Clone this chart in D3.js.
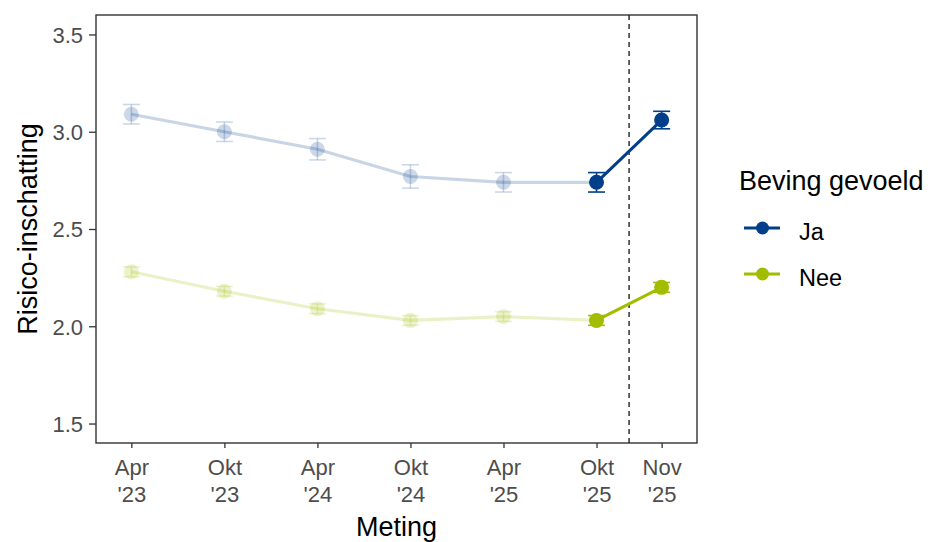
<!DOCTYPE html>
<html>
<head>
<meta charset="utf-8">
<script src="https://cdn.jsdelivr.net/npm/d3@7"></script>
<style>
  body { margin: 0; background: #fff; }
  text { font-family: "Liberation Sans", Arial, sans-serif; }
</style>
</head>
<body>
<div id="container"></div>
<script>
const width = 934;
const height = 542;
const margin = { top: 15, right: 237, bottom: 99, left: 96 };

// data
const tickLabels = [["Apr", "'23"], ["Okt", "'23"], ["Apr", "'24"], ["Okt", "'24"], ["Apr", "'25"], ["Okt", "'25"], ["Nov", "'25"]];
const positions = [1, 2, 3, 4, 5, 6, 6.7];
const jaMean = [3.09, 3.00, 2.91, 2.77, 2.74, 2.74, 3.06];
const jaSe = [0.05, 0.05, 0.055, 0.06, 0.05, 0.05, 0.045];
const neeMean = [2.28, 2.18, 2.09, 2.03, 2.05, 2.03, 2.20];
const neeSe = [0.025, 0.025, 0.025, 0.025, 0.025, 0.025, 0.025];
const yTicks = [1.5, 2.0, 2.5, 3.0, 3.5];
const cutoff = 6.35;

const series = [
    { name: "Ja", color: "#023e8a", mean: jaMean, se: jaSe },
    { name: "Nee", color: "#a2bd00", mean: neeMean, se: neeSe }
];

const svg = d3.select("#container")
    .append('svg')
    .attr('width', width)
    .attr('height', height);

const x = d3.scaleLinear()
    .domain([0.62, 7.08])
    .range([margin.left, width - margin.right]);

const y = d3.scaleLinear()
    .domain([1.4, 3.6])
    .range([height - margin.bottom, margin.top]);

// y axis
const yAxis = svg.append('g')
    .attr('transform', `translate(${margin.left},0)`)
    .call(d3.axisLeft(y).tickValues(yTicks).tickFormat(d3.format('.1f')).tickSize(7).tickPadding(6));
yAxis.select('.domain').remove();
yAxis.selectAll('line').attr('stroke', '#333').attr('stroke-width', 1.3);
yAxis.selectAll('text').attr('fill', '#4d4d4d').attr('dy', '0.36em').style('font-size', '22px');

// x axis
const xAxis = svg.append('g')
    .attr('transform', `translate(0,${height - margin.bottom})`)
    .call(d3.axisBottom(x).tickValues(positions).tickFormat('').tickSize(5));
xAxis.select('.domain').remove();
xAxis.selectAll('line').attr('stroke', '#333').attr('stroke-width', 1.3);
xAxis.selectAll('.tick').each(function (d, i) {
    const t = d3.select(this).append('text')
        .attr('fill', '#4d4d4d')
        .attr('text-anchor', 'middle')
        .style('font-size', '22px');
    t.append('tspan').attr('x', 0).attr('y', 32).text(tickLabels[i][0]);
    t.append('tspan').attr('x', 0).attr('y', 59).text(tickLabels[i][1]);
});

// panel border
svg.append('rect')
    .attr('x', margin.left)
    .attr('y', margin.top)
    .attr('width', width - margin.left - margin.right)
    .attr('height', height - margin.top - margin.bottom)
    .attr('fill', 'none')
    .attr('stroke', '#333')
    .attr('stroke-width', 1.4);

// dashed cutoff
svg.append('line')
    .attr('x1', x(cutoff)).attr('x2', x(cutoff))
    .attr('y1', margin.top).attr('y2', height - margin.bottom)
    .attr('stroke', '#222')
    .attr('stroke-width', 1.4)
    .attr('stroke-dasharray', '5,4');

const line = d3.line().x(d => x(d.x)).y(d => y(d.y));

series.forEach(s => {
    const pts = positions.map((p, i) => ({ x: p, y: s.mean[i], se: s.se[i], faded: i < 5 }));
    const g = svg.append('g');

    // faded history line
    g.append('path')
        .datum(pts.slice(0, 6))
        .attr('d', line)
        .attr('fill', 'none')
        .attr('stroke', s.color)
        .attr('stroke-opacity', 0.22)
        .attr('stroke-width', 3.2);

    // highlighted last segment
    g.append('path')
        .datum(pts.slice(5))
        .attr('d', line)
        .attr('fill', 'none')
        .attr('stroke', s.color)
        .attr('stroke-width', 3);

    const op = d => d.faded ? 0.2 : 1;
    const pt = g.selectAll('g.pt')
        .data(pts)
        .join('g')
        .attr('class', 'pt');

    pt.append('circle')
        .attr('cx', d => x(d.x))
        .attr('cy', d => y(d.y))
        .attr('r', 7.5)
        .attr('fill', s.color)
        .attr('fill-opacity', op);
    pt.append('line')
        .attr('x1', d => x(d.x)).attr('x2', d => x(d.x))
        .attr('y1', d => y(d.y - d.se)).attr('y2', d => y(d.y + d.se))
        .attr('stroke', s.color).attr('stroke-width', 1.6)
        .attr('stroke-opacity', op);
    pt.selectAll('line.cap')
        .data(d => [d.y - d.se, d.y + d.se].map(v => ({ x: d.x, v, faded: d.faded })))
        .join('line')
        .attr('class', 'cap')
        .attr('x1', d => x(d.x) - 8.5).attr('x2', d => x(d.x) + 8.5)
        .attr('y1', d => y(d.v)).attr('y2', d => y(d.v))
        .attr('stroke', s.color).attr('stroke-width', 1.6)
        .attr('stroke-opacity', op);
});

// axis titles
svg.append('text')
    .attr('x', (margin.left + width - margin.right) / 2)
    .attr('y', 536)
    .attr('text-anchor', 'middle')
    .style('font-size', '27px')
    .text('Meting');

svg.append('text')
    .attr('transform', `translate(37,${(margin.top + height - margin.bottom) / 2}) rotate(-90)`)
    .attr('text-anchor', 'middle')
    .style('font-size', '27px')
    .text('Risico-inschatting');

// legend
const legend = svg.append('g').attr('transform', 'translate(739,0)');
legend.append('text')
    .attr('x', 0).attr('y', 190)
    .style('font-size', '27px')
    .text('Beving gevoeld');

series.forEach((s, i) => {
    const ly = 228 + i * 46;
    legend.append('line')
        .attr('x1', 5).attr('x2', 41)
        .attr('y1', ly).attr('y2', ly)
        .attr('stroke', s.color).attr('stroke-width', 3);
    legend.append('circle')
        .attr('cx', 23.5).attr('cy', ly).attr('r', 6.5)
        .attr('fill', s.color);
    legend.append('text')
        .attr('x', 60).attr('y', ly + 12)
        .style('font-size', '23.5px')
        .text(s.name);
});
</script>
</body>
</html>
